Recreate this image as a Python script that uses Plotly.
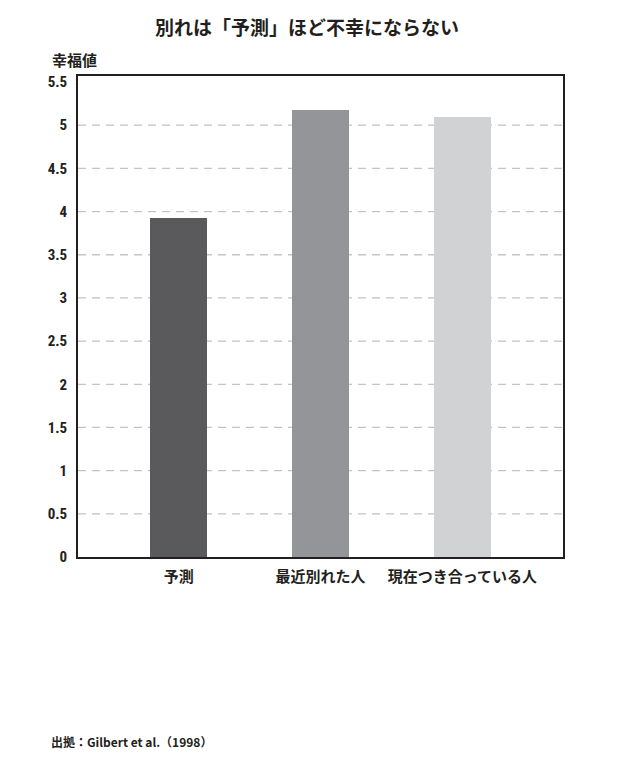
import plotly.graph_objects as go

categories = ["予測", "最近別れた人", "現在つき合っている人"]
values = [3.92, 5.18, 5.10]
bar_colors = ["#5a5a5c", "#949598", "#d1d2d4"]
tick_vals = [0, 0.5, 1, 1.5, 2, 2.5, 3, 3.5, 4, 4.5, 5, 5.5]
tick_text = ["0", "0.5", "1", "1.5", "2", "2.5", "3", "3.5", "4", "4.5", "5", "5.5"]

title_text = "別れは「予測」ほど不幸にならない"
y_title = "幸福値"
source_text = "出拠：Gilbert et al.（1998）"

JP = "Noto Sans CJK JP"
NUM = "Liberation Sans Narrow, Roboto Condensed, Liberation Sans, sans-serif"

fig = go.Figure()
fig.add_trace(go.Bar(
    x=list(range(len(categories))),
    y=values,
    marker=dict(color=bar_colors, line=dict(width=0)),
    width=0.40,
    hoverinfo="skip",
))

# dashed gridlines (excluding 0 and top)
for v in tick_vals[1:-1]:
    fig.add_shape(type="line", xref="paper", yref="y", x0=0, x1=1, y0=v, y1=v,
                  line=dict(color="#c4c4c4", width=1.3, dash="8px,6px"), layer="below")

fig.update_layout(
    width=620, height=771,
    margin=dict(l=78, r=57, t=76, b=214),
    paper_bgcolor="white", plot_bgcolor="white",
    showlegend=False,
    bargap=0,
    title=dict(text=title_text, x=0.495, xanchor="center", y=1 - 28/771, yanchor="middle",
               font=dict(family=JP, size=19, color="#231f20", weight=600)),
    xaxis=dict(
        range=[-0.71, 2.71],
        tickmode="array", tickvals=list(range(len(categories))), ticktext=categories,
        showgrid=False, zeroline=False, ticks="",
        showline=True, mirror=True, linecolor="#231f20", linewidth=1.6,
        tickfont=dict(family=JP, size=15, color="#231f20", weight=600),
        ticklabelstandoff=5,
    ),
    yaxis=dict(
        range=[0, 5.57],
        tickmode="array", tickvals=tick_vals, ticktext=tick_text,
        showgrid=False, zeroline=False, ticks="",
        showline=True, mirror=True, linecolor="#231f20", linewidth=1.6,
        tickfont=dict(family=NUM, size=15, color="#231f20", weight="bold"),
        ticklabelstandoff=6,
    ),
    annotations=[
        dict(text=y_title, xref="paper", yref="paper", x=(50-78)/485, y=1 + 17/481,
             xanchor="left", yanchor="middle", showarrow=False,
             font=dict(family=JP, size=15, color="#231f20", weight=600)),
        dict(text=source_text, xref="paper", yref="paper", x=(49-78)/485, y=-(741-557)/481,
             xanchor="left", yanchor="middle", showarrow=False,
             font=dict(family=JP, size=12, color="#231f20", weight="bold")),
    ],
)

fig.write_html("out.html", config={"displayModeBar": False},
               post_script="document.body.style.margin='0';document.body.style.overflow='hidden';")
